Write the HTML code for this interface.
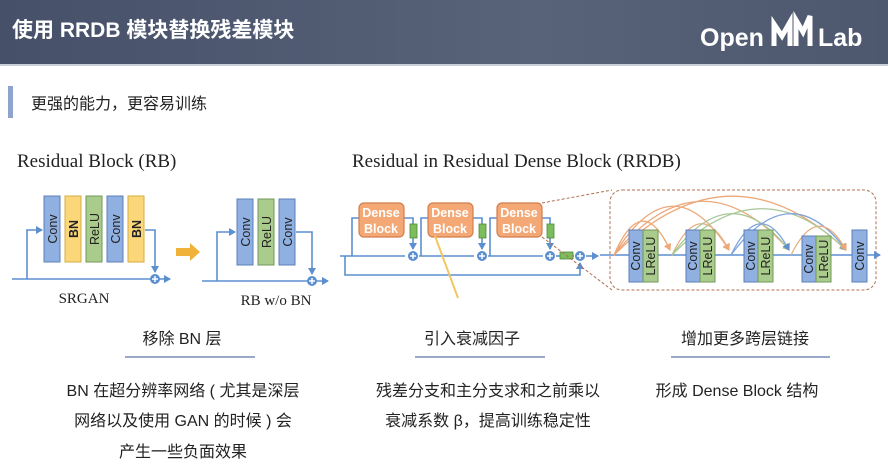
<!DOCTYPE html>
<html><head><meta charset="utf-8"><style>
html,body{margin:0;padding:0;width:888px;height:466px;overflow:hidden;background:#fff;}
svg{display:block}
.cn{font-family:"Liberation Sans","Noto Sans CJK SC",sans-serif;}
.se{font-family:"Liberation Serif","Noto Serif CJK SC",serif;}
.bt{font-family:"Liberation Sans",sans-serif;font-size:12.5px;fill:#222;}
</style></head><body>
<svg width="888" height="466" viewBox="0 0 888 466" xmlns="http://www.w3.org/2000/svg">
<defs>
<linearGradient id="hd" x1="0" x2="1" y1="0" y2="0"><stop offset="0" stop-color="#465069"/><stop offset="0.6" stop-color="#586379"/><stop offset="1" stop-color="#4d576e"/></linearGradient>
<marker id="ab" markerWidth="8" markerHeight="8" refX="6" refY="4" orient="auto" markerUnits="userSpaceOnUse"><path d="M0,0 L7,4 L0,8z" fill="#5b8fd0"/></marker>
<marker id="ao" markerWidth="8" markerHeight="8" refX="6" refY="4" orient="auto" markerUnits="userSpaceOnUse"><path d="M0,0 L7,4 L0,8z" fill="#eea878"/></marker>
<marker id="ag" markerWidth="8" markerHeight="8" refX="6" refY="4" orient="auto" markerUnits="userSpaceOnUse"><path d="M0,0 L7,4 L0,8z" fill="#a8c898"/></marker>
<g id="plus"><circle r="5" fill="#5b8fd0"/><path d="M-3,0H3M0,-3V3" stroke="#fff" stroke-width="1.5"/></g>
</defs>
<rect width="888" height="64" fill="url(#hd)"/>
<rect y="64" width="888" height="2" fill="#c9ced8"/>
<text x="12" y="37" class="cn" font-size="21" font-weight="bold" fill="#fff">使用 RRDB 模块替换残差模块</text>
<text x="700" y="46" class="cn" font-size="25" font-weight="bold" fill="#fff">Open</text>
<path d="M774,46 V24 L782,36 L790,22 V46 M796,46 V20 L803,32 L810,16 V46" stroke="#fff" stroke-width="5" fill="none"/>
<text x="818" y="46" class="cn" font-size="25" font-weight="bold" fill="#fff">Lab</text>
<rect x="8" y="86" width="5" height="32" fill="#8fa3cc"/>
<text x="31" y="109" class="cn" font-size="16" fill="#222">更强的能力，更容易训练</text>
<text x="17" y="167" class="se" font-size="19" fill="#222">Residual Block (RB)</text>
<text x="352" y="167" class="se" font-size="19" fill="#222">Residual in Residual Dense Block (RRDB)</text>

<g stroke="#5b8fd0" stroke-width="1.6" fill="none">
<path d="M12,279 H170" marker-end="url(#ab)"/>
<path d="M27,279 V230 H42" marker-end="url(#ab)"/>
<path d="M145,230 H155 V272" marker-end="url(#ab)"/>
<path d="M202,281 H328" marker-end="url(#ab)"/>
<path d="M217,281 V232 H235" marker-end="url(#ab)"/>
<path d="M296,232 H312 V274" marker-end="url(#ab)"/>
</g>
<use href="#plus" x="155" y="279"/><use href="#plus" x="312" y="281"/>
<g stroke-width="1">
<rect x="44" y="196" width="16" height="66" fill="#8fb0e0" stroke="#5b7fb8"/>
<rect x="65" y="196" width="16" height="66" fill="#fcd77a" stroke="#d8ac40"/>
<rect x="86" y="196" width="16" height="66" fill="#a9cc8c" stroke="#72995a"/>
<rect x="107" y="196" width="16" height="66" fill="#8fb0e0" stroke="#5b7fb8"/>
<rect x="128" y="196" width="16" height="66" fill="#fcd77a" stroke="#d8ac40"/>
<rect x="237" y="199" width="16" height="66" fill="#8fb0e0" stroke="#5b7fb8"/>
<rect x="258" y="199" width="16" height="66" fill="#a9cc8c" stroke="#72995a"/>
<rect x="279" y="199" width="16" height="66" fill="#8fb0e0" stroke="#5b7fb8"/>
</g>
<g class="bt">
<text transform="translate(57,229) rotate(-90)" text-anchor="middle">Conv</text>
<text transform="translate(78,229) rotate(-90)" text-anchor="middle" font-weight="bold">BN</text>
<text transform="translate(99,229) rotate(-90)" text-anchor="middle">ReLU</text>
<text transform="translate(120,229) rotate(-90)" text-anchor="middle">Conv</text>
<text transform="translate(141,229) rotate(-90)" text-anchor="middle" font-weight="bold">BN</text>
<text transform="translate(250,232) rotate(-90)" text-anchor="middle">Conv</text>
<text transform="translate(271,232) rotate(-90)" text-anchor="middle">ReLU</text>
<text transform="translate(292,232) rotate(-90)" text-anchor="middle">Conv</text>
</g>
<path d="M176,248 H190 V243 L200,252 L190,261 V256 H176z" fill="#f1b23a"/>
<text x="84" y="303" class="se" font-size="15" fill="#222" text-anchor="middle">SRGAN</text>
<text x="276" y="305" class="se" font-size="15" fill="#222" text-anchor="middle">RB w/o BN</text>

<g stroke="#5b8fd0" stroke-width="1.6" fill="none">
<path d="M340,256 H405"/><path d="M419,256 H474"/><path d="M488,256 H543"/><path d="M556,256 H560"/><path d="M572,256 H574"/>
<path d="M586,256 H598" marker-end="url(#ab)"/>
<path d="M345,256 V275 H580 V263" marker-end="url(#ab)"/>
<path d="M352,256 V218 H359"/><path d="M404,218 H413 V249" marker-end="url(#ab)"/>
<path d="M421,256 V218 H428"/><path d="M473,218 H482 V249" marker-end="url(#ab)"/>
<path d="M490,256 V218 H497"/><path d="M542,218 H550 V249" marker-end="url(#ab)"/>
</g>
<g fill="#f3a876" stroke="#d27e4c" stroke-width="1.2">
<rect x="359" y="203" width="45" height="34" rx="5"/>
<rect x="428" y="203" width="45" height="34" rx="5"/>
<rect x="497" y="203" width="45" height="34" rx="5"/>
</g>
<g class="cn" font-size="12.5" font-weight="bold" fill="#fff" text-anchor="middle">
<text x="381" y="217">Dense</text><text x="381" y="233">Block</text>
<text x="450" y="217">Dense</text><text x="450" y="233">Block</text>
<text x="519" y="217">Dense</text><text x="519" y="233">Block</text>
</g>
<g fill="#7cbc5c" stroke="#4f8a38" stroke-width="0.8">
<rect x="410" y="224" width="7" height="14"/><rect x="479" y="224" width="7" height="14"/><rect x="547" y="224" width="7" height="14"/>
<rect x="560" y="252" width="13" height="7"/>
</g>
<use href="#plus" x="413" y="256"/><use href="#plus" x="482" y="256"/><use href="#plus" x="550" y="256"/><use href="#plus" x="580" y="256"/>
<path d="M435,236 L458,298" stroke="#f0c860" stroke-width="2"/>
<g stroke="#b07050" stroke-width="1" stroke-dasharray="3,2" fill="none">
<path d="M542,203 L612,190"/><path d="M542,237 L612,290"/>
<rect x="610" y="190" width="266" height="100" rx="12"/>
</g>
<path d="M600,255 H880" stroke="#5b8fd0" stroke-width="1.6" fill="none" marker-end="url(#ab)"/>
<g fill="none" stroke-width="1.3">
<path d="M614,255 Q642,190 670,250" stroke="#eea878" marker-end="url(#ao)"/>
<path d="M614,255 Q672,160 729,250" stroke="#eea878" marker-end="url(#ao)"/>
<path d="M614,255 Q700,150 789,250" stroke="#eea878" marker-end="url(#ao)"/>
<path d="M614,255 Q730,140 846,250" stroke="#eea878" marker-end="url(#ao)"/>
<path d="M672,255 Q700,195 729,250" stroke="#e8b080" marker-end="url(#ao)"/>
<path d="M672,255 Q730,175 789,250" stroke="#a8c898" marker-end="url(#ag)"/>
<path d="M672,255 Q760,165 846,250" stroke="#a8c898" marker-end="url(#ag)"/>
<path d="M731,255 Q760,195 789,250" stroke="#7ea4dc" marker-end="url(#ab)"/>
<path d="M731,255 Q790,175 846,250" stroke="#7ea4dc" marker-end="url(#ab)"/>
<path d="M791,255 Q818,200 846,250" stroke="#e8b080" marker-end="url(#ao)"/>
</g>
<g stroke-width="1">
<rect x="629" y="230" width="14" height="52" fill="#8fb0e0" stroke="#5b7fb8"/>
<rect x="643" y="230" width="15" height="52" fill="#a9cc8c" stroke="#72995a"/>
<rect x="686" y="230" width="14" height="52" fill="#8fb0e0" stroke="#5b7fb8"/>
<rect x="700" y="230" width="15" height="52" fill="#a9cc8c" stroke="#72995a"/>
<rect x="744" y="230" width="14" height="52" fill="#8fb0e0" stroke="#5b7fb8"/>
<rect x="758" y="230" width="15" height="52" fill="#a9cc8c" stroke="#72995a"/>
<rect x="802" y="236" width="14" height="46" fill="#8fb0e0" stroke="#5b7fb8"/>
<rect x="816" y="236" width="15" height="46" fill="#a9cc8c" stroke="#72995a"/>
<rect x="852" y="230" width="15" height="52" fill="#8fb0e0" stroke="#5b7fb8"/>
</g>
<g class="bt">
<text transform="translate(640,256) rotate(-90)" text-anchor="middle">Conv</text>
<text transform="translate(655,256) rotate(-90)" text-anchor="middle">LReLU</text>
<text transform="translate(697,256) rotate(-90)" text-anchor="middle">Conv</text>
<text transform="translate(712,256) rotate(-90)" text-anchor="middle">LReLU</text>
<text transform="translate(755,256) rotate(-90)" text-anchor="middle">Conv</text>
<text transform="translate(770,256) rotate(-90)" text-anchor="middle">LReLU</text>
<text transform="translate(813,259) rotate(-90)" text-anchor="middle">Conv</text>
<text transform="translate(828,259) rotate(-90)" text-anchor="middle">LReLU</text>
<text transform="translate(864,256) rotate(-90)" text-anchor="middle">Conv</text>
</g>

<g class="cn" font-size="16" fill="#222" text-anchor="middle">
<text x="182" y="344">移除 BN 层</text>
<text x="472" y="344">引入衰减因子</text>
<text x="745" y="344">增加更多跨层链接</text>
<text x="183" y="396">BN 在超分辨率网络 ( 尤其是深层</text>
<text x="183" y="426">网络以及使用 GAN 的时候 ) 会</text>
<text x="183" y="457">产生一些负面效果</text>
<text x="488" y="396">残差分支和主分支求和之前乘以</text>
<text x="488" y="426">衰减系数 β，提高训练稳定性</text>
<text x="737" y="396">形成 Dense Block 结构</text>
</g>
<g stroke="#9aa9c8" stroke-width="2">
<path d="M125,357 H255"/><path d="M415,357 H545"/><path d="M671,357 H830"/>
</g>
</svg>
</body></html>
